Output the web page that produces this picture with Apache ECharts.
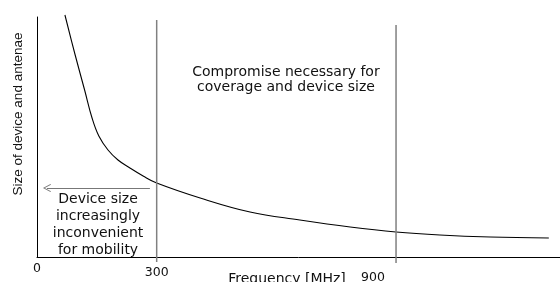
<!DOCTYPE html>
<html>
<head>
<meta charset="utf-8">
<script src="https://cdn.jsdelivr.net/npm/echarts@6/dist/echarts.min.js"></script>
<style>
  html, body { margin: 0; padding: 0; background: #fff; }
  #chart { width: 560px; height: 282px; }
</style>
</head>
<body>
<div id="chart"></div>
<script>
// curve: size of device vs frequency (arbitrary size units)
const freq = [70, 95, 120, 138, 155, 178, 203, 233, 266, 300, 409, 534, 659, 785, 900, 1010, 1136, 1283];
const size = [242, 203, 166, 139, 121, 107, 97, 89, 81, 74, 59, 45, 37, 30, 25, 22, 20, 19];

// vertical marker lines (MHz) with top / bottom ends
const markerFreqs = [300, 900];
const markerTops = [237, 232];
const markerBottoms = [-5, -6];

const tickValues = [0, 300, 900];

// arrow pointing left, from 300 MHz towards 0
const arrowFrom = [283, 69];
const arrowTo = [25, 69];

const noteCompromise = 'Compromise necessary for\ncoverage and device size';
const noteCompromiseAt = [624, 177];
const noteDevice = 'Device size\nincreasingly\ninconvenient\nfor mobility';
const noteDeviceAt = [153, 32.5];

const X_MAX = 1311;
const Y_MAX = 240;

const chart = echarts.init(document.getElementById('chart'));

const markerSeries = markerFreqs.map((f, i) => ({
  type: 'line',
  data: [[f, markerBottoms[i]], [f, markerTops[i]]],
  symbol: 'none',
  clip: false,
  silent: true,
  lineStyle: { color: '#808080', width: 1.5 }
}));

const option = {
  animation: false,
  backgroundColor: '#fff',
  grid: { left: 37, right: 0, top: 17, bottom: 25, containLabel: false, outerBoundsMode: 'none' },
  xAxis: {
    type: 'value',
    min: 0,
    max: X_MAX,
    name: 'Frequency [MHz]',
    nameLocation: 'middle',
    nameGap: 15,
    nameMoveOverlap: false,
    nameTextStyle: {
      color: '#111',
      fontFamily: 'DejaVu Sans',
      fontSize: 14,
      padding: [0, 23, 0, 0]
    },
    axisLine: { onZero: false, lineStyle: { color: '#000', width: 1 } },
    axisTick: { show: false },
    splitLine: { show: false },
    axisLabel: {
      customValues: tickValues,
      margin: 5,
      color: '#111',
      fontFamily: 'DejaVu Sans',
      fontSize: 12.5,
      formatter: v => v === 300 ? '{a|300}' : v === 900 ? '{b|900}' : '{z|' + v + '}',
      rich: {
        z: { fontFamily: 'DejaVu Sans', fontSize: 12.5, color: '#111' },
        a: { fontFamily: 'DejaVu Sans', fontSize: 12.5, color: '#111', padding: [4, 0, 0, 0] },
        b: { fontFamily: 'DejaVu Sans', fontSize: 12.5, color: '#111', padding: [9, 46, 0, 0] }
      }
    }
  },
  yAxis: {
    type: 'value',
    min: 0,
    max: Y_MAX,
    name: 'Size of device and antenae',
    nameLocation: 'middle',
    nameGap: 12,
    nameMoveOverlap: false,
    nameTextStyle: {
      color: '#111',
      fontFamily: 'Liberation Sans',
      fontSize: 13.5,
      padding: [0, 0, 0, 46]
    },
    axisLine: { show: true, lineStyle: { color: '#000', width: 1 } },
    axisTick: { show: false },
    axisLabel: { show: false },
    splitLine: { show: false }
  },
  series: [
    {
      type: 'line',
      data: freq.map((f, i) => [f, size[i]]),
      smooth: 0.4,
      symbol: 'none',
      clip: false,
      lineStyle: { color: '#000', width: 1.1 }
    },
    ...markerSeries,
    {
      type: 'line',
      data: [],
      silent: true,
      markLine: {
        silent: true,
        symbol: ['none', 'path://M0,9 L5,0 L10,9 L9,9.6 L5,2.2 L1,9.6 Z'],
        symbolSize: [8, 8],
        label: { show: false },
        lineStyle: { color: '#777', width: 1.2, type: 'solid' },
        data: [[{ coord: arrowFrom }, { coord: arrowTo }]]
      },
      markPoint: {
        silent: true,
        symbol: 'circle',
        symbolSize: 0,
        label: {
          show: true,
          position: 'inside',
          color: '#111',
          fontFamily: 'DejaVu Sans',
          fontSize: 14
        },
        data: [
          { coord: noteCompromiseAt, label: { formatter: noteCompromise, lineHeight: 15 } },
          { coord: noteDeviceAt, label: { formatter: noteDevice, lineHeight: 17 } }
        ]
      }
    }
  ]
};

chart.setOption(option);
</script>
</body>
</html>
